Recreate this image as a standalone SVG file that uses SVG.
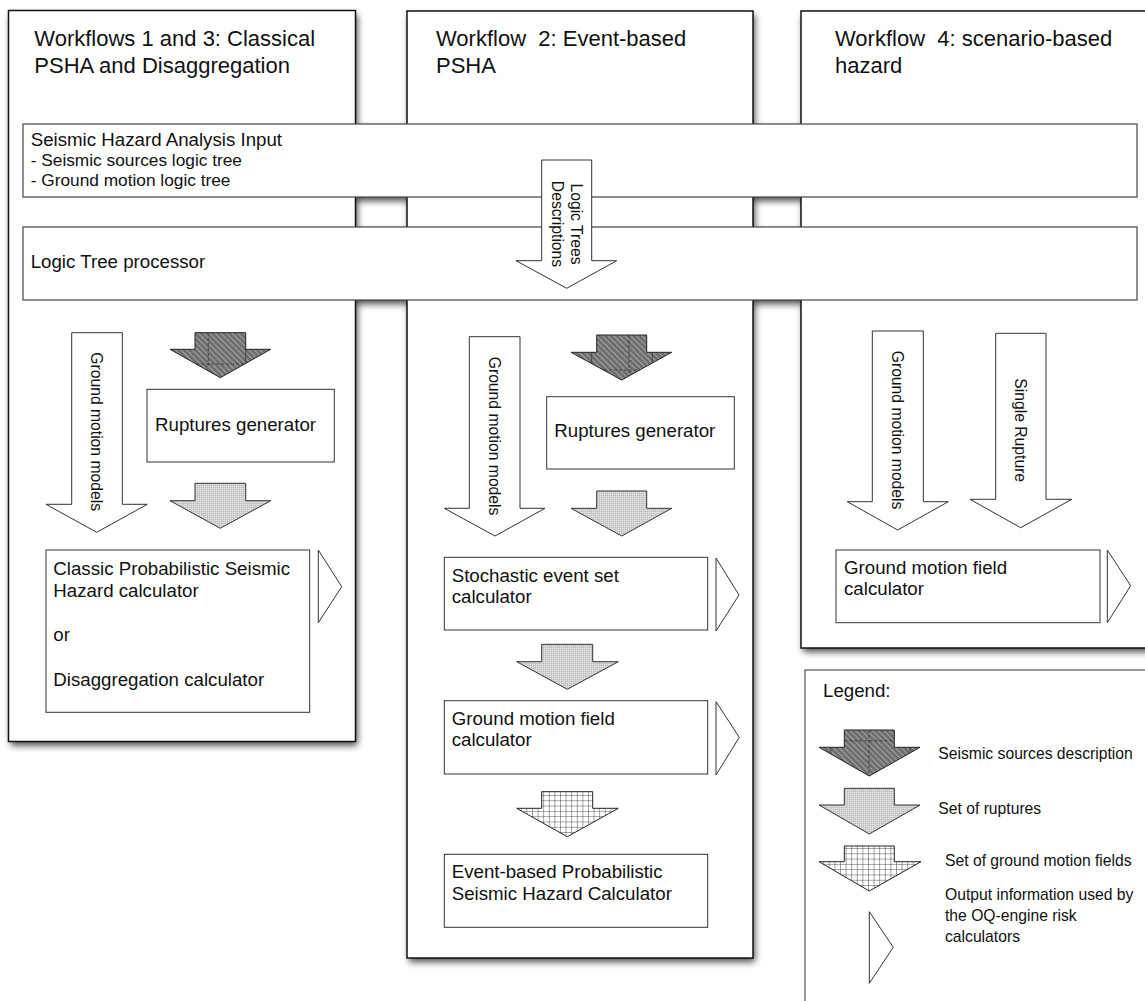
<svg xmlns="http://www.w3.org/2000/svg" width="1145" height="1001" viewBox="0 0 1145 1001">
<defs>
<style>
text { font-family: "Liberation Sans", Arial, Helvetica, sans-serif; fill: #111; }
.title { font-size: 22px; }
.lbl { font-size: 18.7px; }
.sub { font-size: 17.3px; }
.rot { font-size: 15.7px; }
.leg { font-size: 15.7px; }
.panel { fill: #fff; stroke: #111; stroke-width: 1.5; }
.bar { fill: #fff; stroke: #444; stroke-width: 1.2; }
.box { fill: #fff; stroke: #333; stroke-width: 1; }
.arrow { fill: #fff; stroke: #333; stroke-width: 1; }
.out { fill: #fff; stroke: #333; stroke-width: 1; }
.dark { fill: url(#hatch); stroke: #222; stroke-width: 1; }
.light { fill: url(#stipple); stroke: #333; stroke-width: 1; }
.grid { fill: url(#gridp); stroke: #222; stroke-width: 1; }
.seam { stroke: #333; stroke-width: 0.8; stroke-dasharray: 3 2; fill: none; }
.seam2 { stroke: #333; stroke-width: 0.8; fill: none; }
</style>
<filter id="shadow" x="-5%" y="-5%" width="110%" height="110%"><feGaussianBlur stdDeviation="3.5"/></filter>
<pattern id="hatch" width="4" height="4" patternUnits="userSpaceOnUse" patternTransform="rotate(-45)">
<rect width="4" height="4" fill="#6e6e6e"/>
<line x1="0.5" y1="0" x2="0.5" y2="4" stroke="#ababab" stroke-width="0.9"/>
</pattern>
<pattern id="stipple" width="2" height="2" patternUnits="userSpaceOnUse">
<rect width="2" height="2" fill="#cfcfcf"/>
<rect width="1" height="1" fill="#e4e4e4"/>
<rect x="1" y="1" width="1" height="1" fill="#bdbdbd"/>
</pattern>
<pattern id="gridp" width="5.6" height="5.3" patternUnits="userSpaceOnUse">
<rect width="5.6" height="5.3" fill="#fff"/>
<path d="M0,0 V5.3 M0,0 H5.6" stroke="#222" stroke-width="0.8" fill="none"/>
</pattern>
</defs>

<g id="shadows" filter="url(#shadow)" transform="translate(2,4)" fill="#000" opacity="0.7">
<rect x="8.5" y="10.5" width="347" height="731"/>
<rect x="407" y="11" width="346" height="947"/>
<rect x="801" y="11" width="350" height="637"/>
<rect x="23" y="124" width="1114" height="73"/>
<rect x="23" y="227" width="1114" height="73"/>
</g>

<g id="panel-workflow-1-3">
<rect class="panel" x="8.5" y="10.5" width="347" height="731"/>
<text class="title" x="34.3" y="45.7">Workflows 1 and 3: Classical</text>
<text class="title" x="34.3" y="72.7">PSHA and Disaggregation</text>
</g>
<g id="panel-workflow-2">
<rect class="panel" x="407" y="11" width="346" height="947"/>
<text class="title" x="436" y="45.7" xml:space="preserve">Workflow  2: Event-based</text>
<text class="title" x="436" y="72.7">PSHA</text>
</g>
<g id="panel-workflow-4">
<rect class="panel" x="801" y="11" width="350" height="637"/>
<text class="title" x="835" y="45.7" xml:space="preserve">Workflow  4: scenario-based</text>
<text class="title" x="835" y="72.7">hazard</text>
</g>

<g id="sha-input">
<rect class="bar" x="23" y="124" width="1114" height="73"/>
<text class="lbl" x="30.7" y="145.7">Seismic Hazard Analysis Input</text>
<text class="sub" x="30.7" y="165.7">- Seismic sources logic tree</text>
<text class="sub" x="30.7" y="185.7">- Ground motion logic tree</text>
</g>
<g id="logic-tree-processor">
<rect class="bar" x="23" y="227" width="1114" height="73"/>
<text class="lbl" x="30.7" y="268.3">Logic Tree processor</text>
</g>

<g id="ruptures-generator-1">
<rect class="box" x="147" y="389.3" width="187.3" height="72.7"/>
<text class="lbl" x="155" y="431">Ruptures generator</text>
</g>
<g id="classic-psha-calculator">
<rect class="box" x="46" y="550" width="263.7" height="162.3"/>
<text class="lbl" x="53.3" y="575">Classic Probabilistic Seismic</text>
<text class="lbl" x="53.3" y="596.7">Hazard calculator</text>
<text class="lbl" x="53.3" y="641">or</text>
<text class="lbl" x="53.3" y="685.7">Disaggregation calculator</text>
</g>
<g id="ruptures-generator-2">
<rect class="box" x="546.7" y="396.7" width="187.6" height="72.3"/>
<text class="lbl" x="554.3" y="437.3">Ruptures generator</text>
</g>
<g id="ses-calculator">
<rect class="box" x="444.3" y="557.3" width="263.4" height="72.7"/>
<text class="lbl" x="451.7" y="581.7">Stochastic event set</text>
<text class="lbl" x="451.7" y="602.7">calculator</text>
</g>
<g id="gmf-calculator-2">
<rect class="box" x="444.3" y="700.7" width="263.4" height="73.3"/>
<text class="lbl" x="451.7" y="725">Ground motion field</text>
<text class="lbl" x="451.7" y="746">calculator</text>
</g>
<g id="event-based-calculator">
<rect class="box" x="444.3" y="854.3" width="263.4" height="73"/>
<text class="lbl" x="451.7" y="878.3">Event-based Probabilistic</text>
<text class="lbl" x="451.7" y="900">Seismic Hazard Calculator</text>
</g>
<g id="gmf-calculator-4">
<rect class="box" x="836" y="550" width="264" height="72.7"/>
<text class="lbl" x="844" y="574">Ground motion field</text>
<text class="lbl" x="844" y="595">calculator</text>
</g>

<g id="connectors">
<polygon class="arrow" points="541.7,160 591.7,160 591.7,260.7 616.7,260.7 566.7,288.3 516,260.7 541.7,260.7"/>
<text class="rot" text-anchor="middle" transform="translate(570.5,224) rotate(90)">Logic Trees</text>
<text class="rot" text-anchor="middle" transform="translate(551.5,224) rotate(90)">Descriptions</text>

<polygon class="arrow" points="71.7,332.7 122.3,332.7 122.3,504.3 147.3,504.3 96.7,532.3 46,504.3 71.7,504.3"/>
<text class="rot" transform="translate(91.3,352.3) rotate(90)">Ground motion models</text>
<polygon class="arrow" points="469.3,336.7 520,336.7 520,508.3 545,508.3 495,536 444.3,508.3 469.3,508.3"/>
<text class="rot" transform="translate(489,356.7) rotate(90)">Ground motion models</text>
<polygon class="arrow" points="872.3,331 923.3,331 923.3,501.7 948.3,501.7 897.7,530 847.3,501.7 872.3,501.7"/>
<text class="rot" transform="translate(892,350.7) rotate(90)">Ground motion models</text>
<polygon class="arrow" points="995.7,333.3 1046,333.3 1046,499.3 1071.7,499.3 1020.7,527.7 970,499.3 995.7,499.3"/>
<text class="rot" transform="translate(1015,378.3) rotate(90)">Single Rupture</text>

<polygon class="dark" points="195,332.7 245.7,332.7 245.7,349.3 270.7,349.3 220.3,377.7 170,349.3 195,349.3"/>
<path class="seam" d="M208.3,333 V366 M196,364 H244.5"/>
<path class="seam2" d="M245.7,349.3 V363.4"/>
<polygon class="dark" points="596.7,335 646.7,335 646.7,352.3 671.7,352.3 621.7,380 571,352.3 596.7,352.3"/>
<path class="seam" d="M629,335 V375 M604,370 H639.5"/>
<path class="seam2" d="M591.7,352.3 V363.6 M652.3,352.3 V363"/>

<polygon class="light" points="195,483.3 245.7,483.3 245.7,500.7 270.7,500.7 220.3,528.3 170,500.7 195,500.7"/>
<polygon class="light" points="596.7,491 646.7,491 646.7,508.3 671.7,508.3 621.7,536 571,508.3 596.7,508.3"/>
<polygon class="light" points="541.7,644.3 592.7,644.3 592.7,661.7 618.3,661.7 567.3,689.3 516.7,661.7 541.7,661.7"/>
<polygon class="grid" points="541.7,791.7 592.7,791.7 592.7,808.3 618.3,808.3 567.3,836.7 516.7,808.3 541.7,808.3"/>

<polygon class="out" points="318.3,550 341.7,586.7 318.3,622.7"/>
<polygon class="out" points="716,558 739,595 716,631"/>
<polygon class="out" points="716,701.7 739.3,737.3 716,775"/>
<polygon class="out" points="1107.3,550 1130.7,585.7 1107.3,622.7"/>
</g>

<g id="legend">
<rect class="box" x="805" y="670" width="345" height="340" stroke="#111"/>
<text class="lbl" x="823" y="697.3">Legend:</text>
<polygon class="dark" points="844.3,730 894.3,730 894.3,747.3 920,747.3 869.3,776 819,747.3 844.3,747.3"/>
<path class="seam" d="M869,730 V774 M844.3,740.7 H894.3"/>
<path class="seam2" d="M830.7,747.3 V753.6 M910,747.3 V752.7"/>
<text class="leg" x="938.3" y="759">Seismic sources description</text>
<polygon class="light" points="844.3,788.3 894.3,788.3 894.3,805 920,805 869.3,834 819,805 844.3,805"/>
<text class="leg" x="938.3" y="814">Set of ruptures</text>
<polygon class="grid" points="844.3,846 894.3,846 894.3,861.7 921,861.7 869.3,891 819,861.7 844.3,861.7"/>
<text class="leg" x="945" y="865.7">Set of ground motion fields</text>
<polygon class="out" points="869.3,911.7 893.3,947.3 869.3,983.3"/>
<text class="leg" x="945" y="900">Output information used by</text>
<text class="leg" x="945" y="920.7">the OQ-engine risk</text>
<text class="leg" x="945" y="941.7">calculators</text>
</g>
</svg>
